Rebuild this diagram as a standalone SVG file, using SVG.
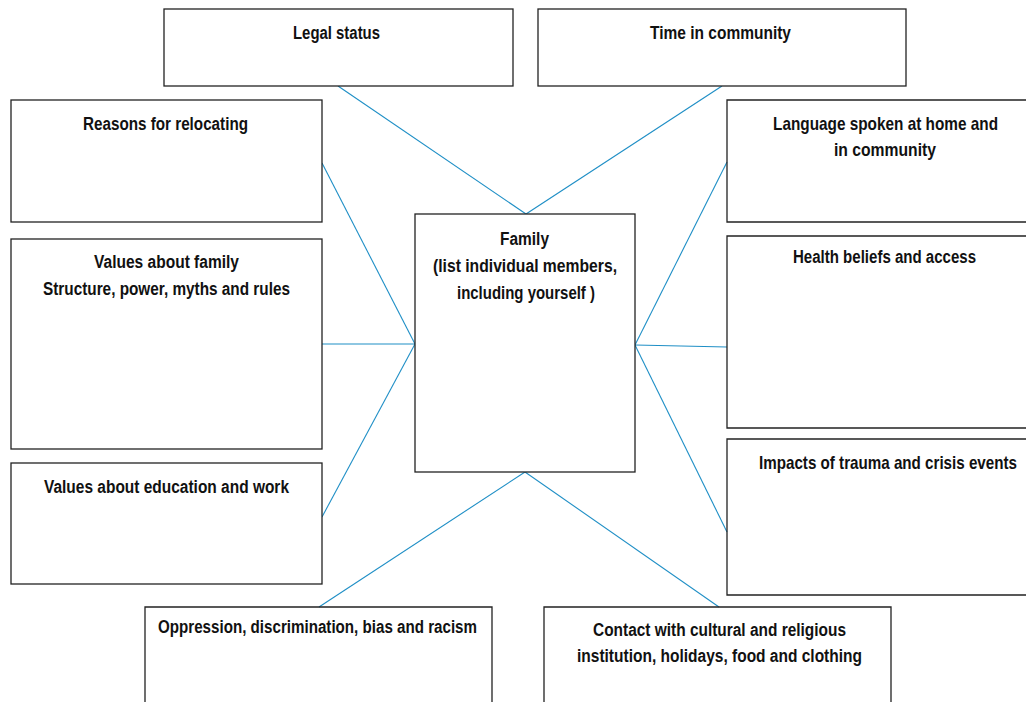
<svg xmlns="http://www.w3.org/2000/svg" width="1026" height="702" viewBox="0 0 1026 702">
<style>
.box{fill:#fff;stroke:#222;stroke-width:1.3}
.edge{fill:none;stroke:#222;stroke-width:1.3}
.lbl{font-family:"Liberation Sans",Arial,sans-serif;font-weight:bold;font-size:17.5px;fill:#111}
.con{stroke:#1f8fc6;stroke-width:1.1;fill:none}
</style>
<rect width="1026" height="702" fill="#fff"/>
<g id="connectors">
<line class="con" x1="338" y1="86" x2="526" y2="214"/>
<line class="con" x1="722" y1="86" x2="526" y2="214"/>
<line class="con" x1="322" y1="163" x2="415" y2="344"/>
<line class="con" x1="322" y1="344" x2="415" y2="344"/>
<line class="con" x1="322" y1="517" x2="415" y2="344"/>
<line class="con" x1="727" y1="162" x2="635" y2="345"/>
<line class="con" x1="727" y1="347" x2="635" y2="345"/>
<line class="con" x1="727" y1="532" x2="635" y2="345"/>
<line class="con" x1="319" y1="607" x2="525" y2="472"/>
<line class="con" x1="719" y1="607" x2="525" y2="472"/>
</g>
<g id="legal">
<rect class="box" x="164" y="9" width="349" height="77"/>
<text class="lbl" x="336.5" y="39" text-anchor="middle" textLength="87" lengthAdjust="spacingAndGlyphs">Legal status</text>
</g>
<g id="time">
<rect class="box" x="538" y="9" width="368" height="77"/>
<text class="lbl" x="720.5" y="39" text-anchor="middle" textLength="141" lengthAdjust="spacingAndGlyphs">Time in community</text>
</g>
<g id="reasons">
<rect class="box" x="11" y="100" width="311" height="122"/>
<text class="lbl" x="165.5" y="130" text-anchor="middle" textLength="165" lengthAdjust="spacingAndGlyphs">Reasons for relocating</text>
</g>
<g id="values-family">
<rect class="box" x="11" y="239" width="311" height="210"/>
<text class="lbl" x="166.5" y="268" text-anchor="middle" textLength="145" lengthAdjust="spacingAndGlyphs">Values about family</text>
<text class="lbl" x="166.5" y="295" text-anchor="middle" textLength="247" lengthAdjust="spacingAndGlyphs">Structure, power, myths and rules</text>
</g>
<g id="values-education">
<rect class="box" x="11" y="463" width="311" height="121"/>
<text class="lbl" x="166.5" y="493" text-anchor="middle" textLength="245" lengthAdjust="spacingAndGlyphs">Values about education and work</text>
</g>
<g id="family">
<rect class="box" x="415" y="214" width="220" height="258"/>
<text class="lbl" x="524.5" y="245" text-anchor="middle" textLength="49" lengthAdjust="spacingAndGlyphs">Family</text>
<text class="lbl" x="525" y="272" text-anchor="middle" textLength="184" lengthAdjust="spacingAndGlyphs">(list individual members,</text>
<text class="lbl" x="526" y="299" text-anchor="middle" textLength="138" lengthAdjust="spacingAndGlyphs">including yourself )</text>
</g>
<g id="language">
<path class="edge" d="M1026,100 H727 V222 H1026"/>
<text class="lbl" transform="translate(885.5,130) scale(0.85,1)" text-anchor="middle" textLength="264.7" lengthAdjust="spacingAndGlyphs">Language spoken at home and</text>
<text class="lbl" x="885" y="156" text-anchor="middle" textLength="102" lengthAdjust="spacingAndGlyphs">in community</text>
</g>
<g id="health">
<path class="edge" d="M1026,236 H727 V428 H1026"/>
<text class="lbl" x="884.5" y="263" text-anchor="middle" textLength="183" lengthAdjust="spacingAndGlyphs">Health beliefs and access</text>
</g>
<g id="impacts">
<path class="edge" d="M1026,439 H727 V595 H1026"/>
<text class="lbl" transform="translate(888,469) scale(0.85,1)" text-anchor="middle" textLength="303.5" lengthAdjust="spacingAndGlyphs">Impacts of trauma and crisis events</text>
</g>
<g id="oppression">
<path class="edge" d="M145,702 V607 H492 V702"/>
<text class="lbl" x="317.5" y="633" text-anchor="middle" textLength="319" lengthAdjust="spacingAndGlyphs">Oppression, discrimination, bias and racism</text>
</g>
<g id="contact">
<path class="edge" d="M544,702 V607 H891 V702"/>
<text class="lbl" x="719.5" y="636" text-anchor="middle" textLength="253" lengthAdjust="spacingAndGlyphs">Contact with cultural and religious</text>
<text class="lbl" x="719.5" y="662" text-anchor="middle" textLength="285" lengthAdjust="spacingAndGlyphs">institution, holidays, food and clothing</text>
</g>
</svg>
